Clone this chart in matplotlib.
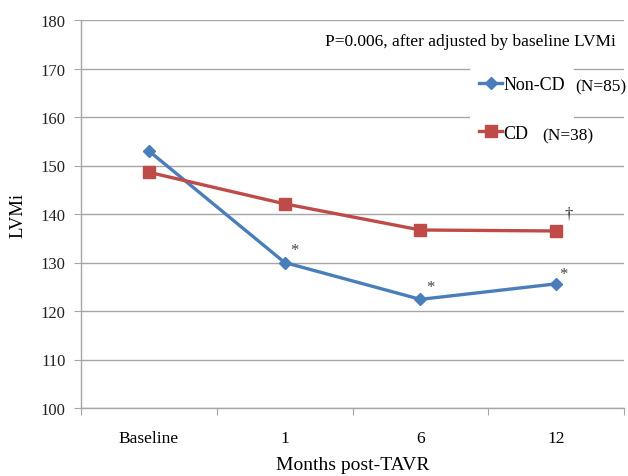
import matplotlib
matplotlib.use("Agg")
import matplotlib.pyplot as plt
from matplotlib.lines import Line2D

categories = ["Baseline", "1", "6", "12"]
non_cd = [153.0, 130.0, 122.4, 125.6]
cd = [148.6, 142.1, 136.7, 136.5]
yticks = [100, 110, 120, 130, 140, 150, 160, 170, 180]

plt.rcParams['font.family'] = ['Liberation Serif', 'DejaVu Serif']

blue = '#4A7EBB'
red = '#BE4B48'
grid_c = '#A6A6A6'

fig = plt.figure(figsize=(6.28, 4.77), dpi=100)
ax = fig.add_axes([81/628, 68/477, (624-81)/628, (409-21)/477])

x = [i + 0.5 for i in range(len(categories))]
ax.plot(x, non_cd, color=blue, lw=2.4, marker='D', ms=6, mfc=blue, mec=blue, zorder=3)
ax.plot(x, cd, color=red, lw=2.4, marker='s', ms=8, mfc=red, mec=red, zorder=3)

ax.set_xlim(0, 4)
ax.set_ylim(100, 180)
ax.set_yticks(yticks)
ax.set_xticks([0, 1, 2, 3, 4])
ax.set_xticklabels([])
ax.set_xticks(x, minor=True)
ax.set_xticklabels(categories, minor=True)
ax.tick_params(axis='x', which='minor', length=0, pad=16, labelsize=12.5)
ax.tick_params(axis='x', which='major', length=5, color=grid_c, direction='out')
ax.tick_params(axis='y', length=5, color=grid_c, direction='out', labelsize=12, labelcolor='#222222', pad=6)
ax.yaxis.grid(True, color=grid_c, lw=1)
ax.set_axisbelow(True)
for s in ['top', 'right']:
    ax.spines[s].set_visible(False)
for s in ['left', 'bottom']:
    ax.spines[s].set_color(grid_c)
    ax.spines[s].set_linewidth(1)

ax.set_ylabel('LVMi', fontsize=13.5, labelpad=10)
fig.text((81 + 624) / 2 / 628, 1 - 466/477, 'Months post-TAVR', fontsize=14, ha='center', va='center')

# significance markers
ax.annotate('*', (x[1], non_cd[1]), xytext=(4, 6), textcoords='offset points', fontsize=12, color='#444444')
ax.annotate('*', (x[2], non_cd[2]), xytext=(4, 6), textcoords='offset points', fontsize=12, color='#444444')
ax.annotate('*', (x[3], non_cd[3]), xytext=(2, 4), textcoords='offset points', fontsize=12, color='#444444')
ax.annotate('\u2020', (x[3], cd[3]), xytext=(6, 10), textcoords='offset points', fontsize=12, color='#333333')

ax.text(0.985, 0.945, 'P=0.006, after adjusted by baseline LVMi', transform=ax.transAxes,
        ha='right', va='center', fontsize=12.5)

handles = [Line2D([], [], color=blue, lw=2.4, marker='D', ms=6),
           Line2D([], [], color=red, lw=2.4, marker='s', ms=8)]
leg = ax.legend(handles, ['Non-CD', 'CD'], loc='upper left',
                bbox_to_anchor=((470-81)/543, (409-68)/388), frameon=True,
                fontsize=13, handlelength=1.3, handletextpad=0.05,
                labelspacing=1.75, borderpad=0.5, borderaxespad=0)
leg.get_frame().set_facecolor('white')
leg.get_frame().set_edgecolor('none')
leg.get_frame().set_alpha(1)
leg.set_zorder(5)

ax.text((575-81)/543, (409-85)/388, '(N=85)', transform=ax.transAxes, ha='left', va='center_baseline', fontsize=12.5, zorder=10)
ax.text((542-81)/543, (409-134)/388, '(N=38)', transform=ax.transAxes, ha='left', va='center_baseline', fontsize=12.5, zorder=10)

fig.savefig('out.png', dpi=100)
